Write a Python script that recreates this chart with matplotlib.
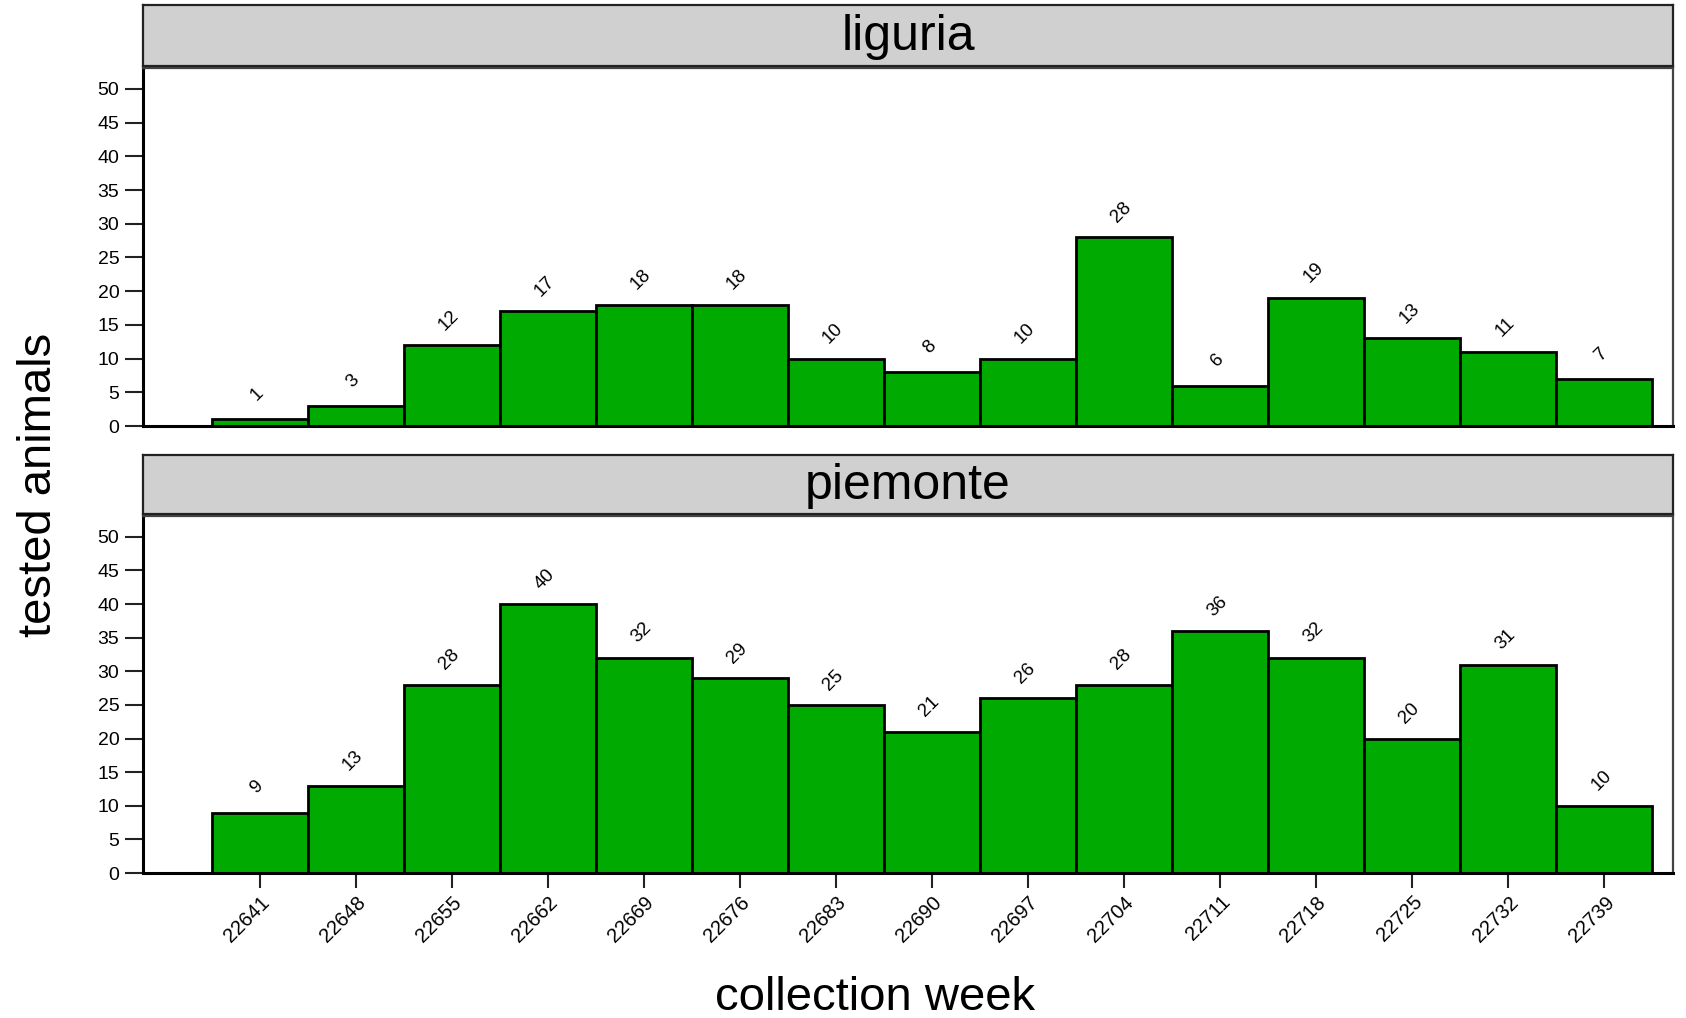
import numpy as np
import matplotlib.pyplot as plt

plt.rcParams['font.family'] = ['Liberation Sans', 'DejaVu Sans']

# data
weeks = [22641, 22648, 22655, 22662, 22669, 22676, 22683, 22690,
         22697, 22704, 22711, 22718, 22725, 22732, 22739]
liguria = [1, 3, 12, 17, 18, 18, 10, 8, 10, 28, 6, 19, 13, 11, 7]
piemonte = [9, 13, 28, 40, 32, 29, 25, 21, 26, 28, 36, 32, 20, 31, 10]
regions = ['liguria', 'piemonte']
counts = [liguria, piemonte]

bar_color = '#00AA00'
strip_color = '#D0D0D0'

fig = plt.figure(figsize=(16.86, 10.18), dpi=100)

left, width = 0.0848, 0.9075
panel_pos = [(0.5815, 0.9332 - 0.5815), (0.1424, 0.4931 - 0.1424)]
strip_pos = [(0.9347, 0.9947 - 0.9347), (0.4953, 0.5530 - 0.4953)]

for k, (name, vals) in enumerate(zip(regions, counts)):
    pb, ph = panel_pos[k]
    ax = fig.add_axes([left, pb, width, ph])
    ax.bar(weeks, vals, width=7, color=bar_color, edgecolor='black', linewidth=2)
    for x, v in zip(weeks, vals):
        ax.annotate(str(v), (x, v), xytext=(-2, 18), textcoords='offset points',
                    ha='center', va='center', rotation=45, fontsize=13.5)
    ax.set_xlim(22632.5, 22744)
    ax.set_ylim(0, 53.1)
    ax.set_yticks(np.arange(0, 51, 5))
    ax.tick_params(axis='y', length=13, width=1.5, labelsize=14, pad=4, color='#222222')
    if k == 1:
        ax.set_xticks(weeks)
        ax.set_xticklabels([str(w) for w in weeks], rotation=45, ha='right',
                           rotation_mode='anchor', fontsize=14.5)
        ax.tick_params(axis='x', length=11, width=1.5, pad=3, color='#222222')
    else:
        ax.set_xticks([])
    for s in ['left', 'bottom']:
        ax.spines[s].set_linewidth(2.2)
        ax.spines[s].set_color('black')
    for s in ['top', 'right']:
        ax.spines[s].set_linewidth(1.6)
        ax.spines[s].set_color('#444444')

    # strip
    sb, sh = strip_pos[k]
    sax = fig.add_axes([left, sb, width, sh])
    sax.set_facecolor(strip_color)
    sax.set_xticks([])
    sax.set_yticks([])
    for s in sax.spines.values():
        s.set_linewidth(1.6)
        s.set_color('#222222')
    sax.text(0.5, 0.48, name, transform=sax.transAxes, ha='center', va='center',
             fontsize=36)

fig.text(0.023, 0.524, 'tested animals', rotation=90, ha='center', va='center', fontsize=34)
fig.text(0.519, 0.02, 'collection week', ha='center', va='center', fontsize=34)

fig.savefig('out.png', dpi=100)
